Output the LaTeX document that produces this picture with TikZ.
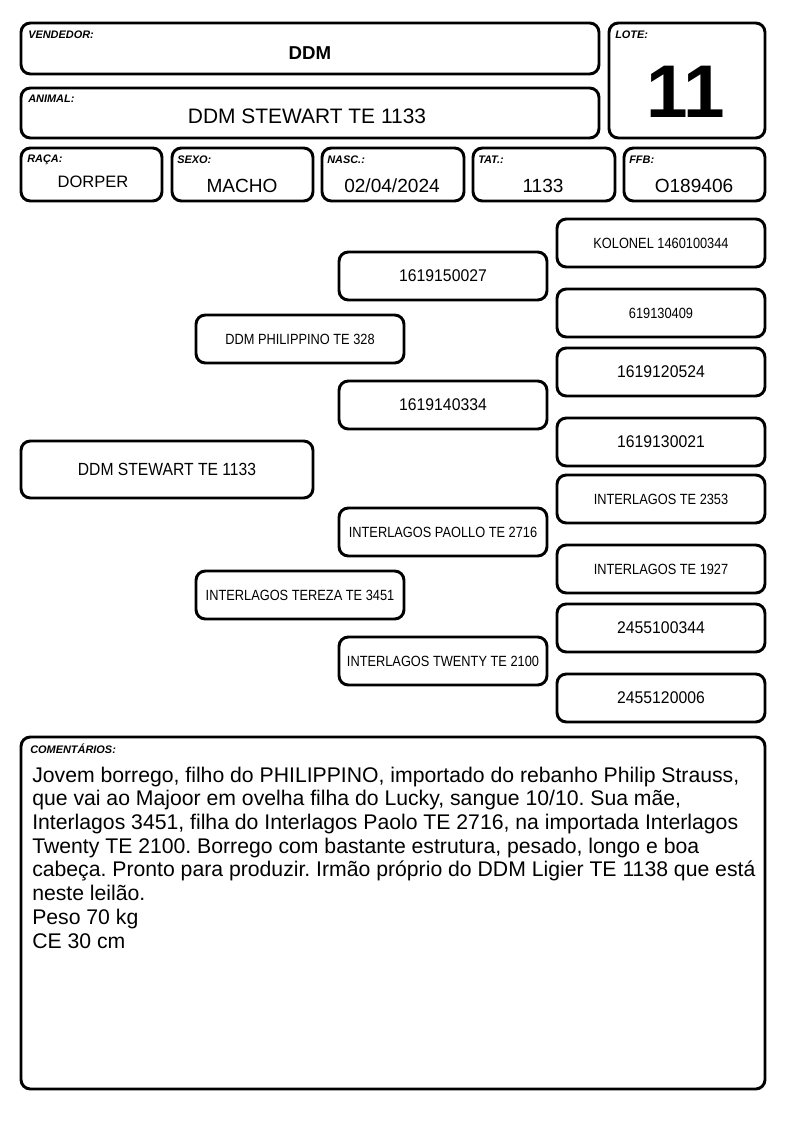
\documentclass[tikz,border=0pt]{standalone}
\usepackage{fontspec}
\setmainfont{Liberation Sans}
\newfontfamily\narrowA[FakeStretch=0.865]{Liberation Sans}
\newfontfamily\narrowB[FakeStretch=0.93]{Liberation Sans}
\newfontfamily\narrowC[FakeStretch=0.89]{Liberation Sans}
\tikzset{
  box/.style={draw, line width=2.2pt, rounded corners=7pt, inner sep=0pt, align=center},
  lbl/.style={anchor=base west, inner sep=0pt, font=\fontsize{8.2}{9}\selectfont\bfseries\itshape},
  val/.style={inner sep=0pt, font=\fontsize{14.3}{16}\selectfont},
  pedS/.style={box, minimum width={208*0.75pt}, minimum height={48*0.75pt}, font=\narrowA\fontsize{11.1}{13}\selectfont},
  pedL/.style={box, minimum width={208*0.75pt}, minimum height={48*0.75pt}, font=\narrowB\fontsize{12.7}{14}\selectfont},
}
\begin{document}
\begin{tikzpicture}[x=0.75pt, y=-0.75pt]
\useasboundingbox (0,0) rectangle (794,1123);
% header boxes
\node[box, minimum width={578*0.75pt}, minimum height={51*0.75pt}] (vend) at (310,48.5) {};
\node[box, minimum width={156*0.75pt}, minimum height={115*0.75pt}] (lote) at (687,80.5) {};
\node[box, minimum width={578*0.75pt}, minimum height={50*0.75pt}] (animal) at (310,113) {};
\node[box, minimum width={141*0.75pt}, minimum height={53*0.75pt}] (raca) at (91.5,174.5) {};
\node[box, minimum width={141*0.75pt}, minimum height={53*0.75pt}] (sexo) at (242.5,174.5) {};
\node[box, minimum width={142*0.75pt}, minimum height={53*0.75pt}] (nasc) at (393,174.5) {};
\node[box, minimum width={142*0.75pt}, minimum height={53*0.75pt}] (tat) at (544,174.5) {};
\node[box, minimum width={141*0.75pt}, minimum height={53*0.75pt}] (ffb) at (694.5,174.5) {};
% labels
\node[lbl] (lvend) at (28,39) {VENDEDOR:};
\node[lbl] (llote) at (615,39) {LOTE:};
\node[lbl] (lanimal) at (28,103) {ANIMAL:};
\node[lbl] (lraca) at (27,163) {RAÇA:};
\node[lbl] (lsexo) at (177,164) {SEXO:};
\node[lbl] (lnasc) at (327,164) {NASC.:};
\node[lbl] (ltat) at (478,164) {TAT.:};
\node[lbl] (lffb) at (629,164) {FFB:};
% values
\node[inner sep=0pt, font=\fontsize{14}{16}\selectfont\bfseries] (vvend) at (310,53) {DDM};
\node[inner sep=0pt, font=\fontsize{56}{60}\selectfont\bfseries] (vlote) at (686,92) {11};
\node[inner sep=0pt, font=\fontsize{15.7}{17}\selectfont] (vanimal) at (307,116) {DDM STEWART TE 1133};
\node[inner sep=0pt, font=\fontsize{12.4}{14}\selectfont] (vraca) at (93,182) {DORPER};
\node[val] (vsexo) at (242,186) {MACHO};
\node[val] (vnasc) at (392,186) {02/04/2024};
\node[val] (vtat) at (543,186) {1133};
\node[val] (vffb) at (694,186) {O189406};
% pedigree
\node[pedS] (p1) at (661,243) {KOLONEL 1460100344};
\node[pedL] (p2) at (443,276) {1619150027};
\node[pedS] (p3) at (661,313) {619130409};
\node[pedS] (p4) at (300,339) {DDM PHILIPPINO TE 328};
\node[pedL] (p5) at (661,372) {1619120524};
\node[pedL] (p6) at (443,405) {1619140334};
\node[pedL] (p7) at (661,442) {1619130021};
\node[box, minimum width={292*0.75pt}, minimum height={57*0.75pt}, font=\narrowC\fontsize{13.2}{15}\selectfont] (p8) at (167,469.5) {DDM STEWART TE 1133};
\node[pedS] (p9) at (661,499) {INTERLAGOS TE 2353};
\node[pedS] (p10) at (443,532) {INTERLAGOS PAOLLO TE 2716};
\node[pedS] (p11) at (661,569) {INTERLAGOS TE 1927};
\node[pedS] (p12) at (300,595) {INTERLAGOS TEREZA TE 3451};
\node[pedL] (p13) at (661,628) {2455100344};
\node[pedS] (p14) at (443,661) {INTERLAGOS TWENTY TE 2100};
\node[pedL] (p15) at (661,698) {2455120006};
% comments
\node[box, minimum width={744*0.75pt}, minimum height={352*0.75pt}] (coment) at (393,913) {};
\node[lbl] (lcoment) at (30,753) {COMENTÁRIOS:};
\node[anchor=base west, inner sep=0pt, font=\fontsize{15.9}{17.8}\selectfont\frenchspacing] (tcoment) at (32,782) {\begin{tabular}[t]{@{}l@{}}Jovem borrego, filho do PHILIPPINO, importado do rebanho Philip Strauss,\\
que vai ao Majoor em ovelha filha do Lucky, sangue 10/10. Sua mãe,\\
Interlagos 3451, filha do Interlagos Paolo TE 2716, na importada Interlagos\\
Twenty TE 2100. Borrego com bastante estrutura, pesado, longo e boa\\
cabeça. Pronto para produzir. Irmão próprio do DDM Ligier TE 1138 que está\\
neste leilão.\\
Peso 70 kg\\
CE 30 cm\end{tabular}};
\end{tikzpicture}
\end{document}
